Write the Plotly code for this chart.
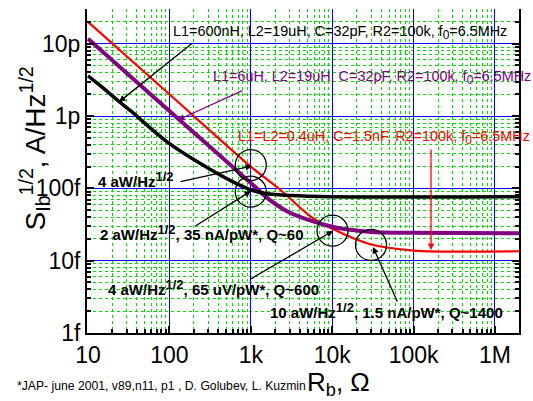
import plotly.graph_objects as go

# ---- data ----
rb_black = [10, 13.8, 24.2, 38.7, 49, 94.4, 243, 631, 1000, 1514, 3162, 10000, 2e6]
s_black = [3.59e-12, 2.69e-12, 1.58e-12, 1.03e-12, 8.1e-13, 4.37e-13, 2.19e-13,
           1.20e-13, 9.55e-14, 8.51e-14, 7.94e-14, 7.67e-14, 7.67e-14]

rb_purple = [10, 100, 1000, 1585, 2818, 5370, 10000, 30000, 100000, 2e6]
s_purple = [1.17e-11, 1.17e-12, 1.19e-13, 7.4e-14, 4.8e-14, 3.6e-14, 2.95e-14,
            2.5e-14, 2.43e-14, 2.4e-14]

rb_red = [10, 100, 1000, 2317, 5400, 9770, 28600, 100000, 2e6]
s_red = [2.0e-11, 2.0e-12, 2.0e-13, 9.5e-14, 4.1e-14, 2.8e-14, 1.7e-14, 1.38e-14, 1.35e-14]

x_tickvals = [10, 100, 1e3, 1e4, 1e5, 1e6]
x_ticktext = ["10", "100", "1k", "10k", "100k", "1M"]
y_tickvals = [1e-15, 1e-14, 1e-13, 1e-12, 1e-11]
y_ticktext = ["1f", "10f", "100f", "1p", "10p"]

# circles marking operating points (data centre)
circle_r = [1000, 1000, 10100, 30000]
circle_s = [2.1e-13, 9.0e-14, 2.6e-14, 1.65e-14]

FONT = "Liberation Sans, Arial, sans-serif"

fig = go.Figure()
fig.add_trace(go.Scatter(x=rb_red, y=s_red, mode="lines",
                         line=dict(color="#ff0000", width=2.2, shape="spline", smoothing=0.8)))
fig.add_trace(go.Scatter(x=rb_purple, y=s_purple, mode="lines",
                         line=dict(color="#800080", width=4, shape="spline", smoothing=0.8)))
fig.add_trace(go.Scatter(x=rb_black, y=s_black, mode="lines",
                         line=dict(color="#000000", width=3.5, shape="spline", smoothing=1)))
fig.add_trace(go.Scatter(x=circle_r, y=circle_s, mode="markers",
                         marker=dict(symbol="circle-open", size=31, color="black",
                                     line=dict(color="black", width=1.3))))

ann = []
# arrows: (x_end, y_end, x_start, y_start) in log10 units, colour
arrows = [
    (1.381, -11.805, 2.302, -10.975, "black"),
    (2.106, -12.054, 2.916, -11.639, "#800080"),
    (5.214, -13.852, 5.214, -12.441, "red"),
    (3.015, -12.69, 2.118, -12.911, "black"),
    (3.002, -13.036, 2.302, -13.534, "black"),
    (4.010, -13.589, 2.978, -14.267, "black"),
    (4.501, -13.81, 4.808, -14.585, "black"),
]
for x, y, ax, ay, c in arrows:
    ann.append(dict(x=x, y=y, ax=ax, ay=ay, xref="x", yref="y", axref="x", ayref="y",
                    text="", showarrow=True, arrowhead=2, arrowsize=1, arrowwidth=1.3,
                    arrowcolor=c))

SUB0 = '<sub><span style="font-size:12px">0</span></sub>'
SUP12 = '<sup><span style="font-size:13px">1/2</span></sup>'
labels = [
    (2.02, -10.85, "L1=600nH, L2=19uH, C=32pF, R2=100k, f" + SUB0 + "=6.5MHz", "black", 14.4, False),
    (2.511, -11.473, "L1=6uH, L2=19uH, C=32pF, R2=100k, f" + SUB0 + "=6.5MHz", "#800080", 14.4, False),
    (2.818, -12.303, "L1=L2=0.4uH, C=1.5nF, R2=100k, f" + SUB0 + "=6.5MHz", "red", 14.4, False),
    (1.098, -12.88, "4 aW/Hz" + SUP12, "black", 15, True),
    (1.123, -13.61, "2 aW/Hz" + SUP12 + ", 35 nA/pW*, Q~60", "black", 15, True),
    (1.221, -14.37, "4 aW/Hz" + SUP12 + ", 65 uV/pW*, Q~600", "black", 15, True),
    (3.211, -14.69, "10 aW/Hz" + SUP12 + ", 1.5 nA/pW*, Q~1400", "black", 15, True),
]
for x, y, t, c, sz, b in labels:
    ann.append(dict(x=x, y=y, xref="x", yref="y", text=("<b>%s</b>" % t) if b else t,
                    showarrow=False, xanchor="left", yanchor="middle",
                    font=dict(family=FONT, size=sz, color=c)))

ann.append(dict(x=-0.12, y=0.57, xref="paper", yref="paper", textangle=-90,
                text="S<sub>Ib</sub><sup>1/2</sup>, A/Hz<sup>1/2</sup>", showarrow=False,
                xanchor="center", yanchor="middle", font=dict(family=FONT, size=28, color="black")))
ann.append(dict(x=0.583, y=-0.155, xref="paper", yref="paper",
                text="R<sub>b</sub>, \u03a9", showarrow=False,
                xanchor="center", yanchor="middle", font=dict(family=FONT, size=26, color="black")))
ann.append(dict(x=-0.1667, y=-0.165, xref="paper", yref="paper",
                text="*JAP- june 2001, v89,n11, p1 , D. Golubev, L. Kuzmin", showarrow=False,
                xanchor="left", yanchor="middle", font=dict(family=FONT, size=12.2, color="black")))

fig.update_layout(
    width=533, height=401,
    margin=dict(l=87, r=14, t=9, b=68),
    paper_bgcolor="white", plot_bgcolor="white",
    showlegend=False,
    annotations=ann,
    xaxis=dict(type="log", range=[0.988, 6.295], tickvals=x_tickvals, ticktext=x_ticktext,
               showgrid=True, gridcolor="#0000ff", gridwidth=1,
               showline=True, linecolor="black", linewidth=2, mirror=False,
               ticks="inside", ticklen=7, tickcolor="black", tickwidth=1.5,
               tickfont=dict(family=FONT, size=23, color="black"), zeroline=False,
               minor=dict(dtick="D1", showgrid=True, gridcolor="#00e000", griddash="dot",
                          gridwidth=1, ticks="inside", ticklen=4, tickcolor="black")),
    yaxis=dict(type="log", range=[-15, -10.52], tickvals=y_tickvals, ticktext=y_ticktext,
               showgrid=True, gridcolor="#0000ff", gridwidth=1,
               showline=True, linecolor="black", linewidth=2, mirror="ticks",
               ticks="inside", ticklen=7, tickcolor="black", tickwidth=1.5,
               tickfont=dict(family=FONT, size=23, color="black"), zeroline=False,
               minor=dict(dtick="D1", showgrid=True, gridcolor="#00e000", griddash="dot",
                          gridwidth=1, ticks="inside", ticklen=4, tickcolor="black")),
)

fig.write_html("out.html")
